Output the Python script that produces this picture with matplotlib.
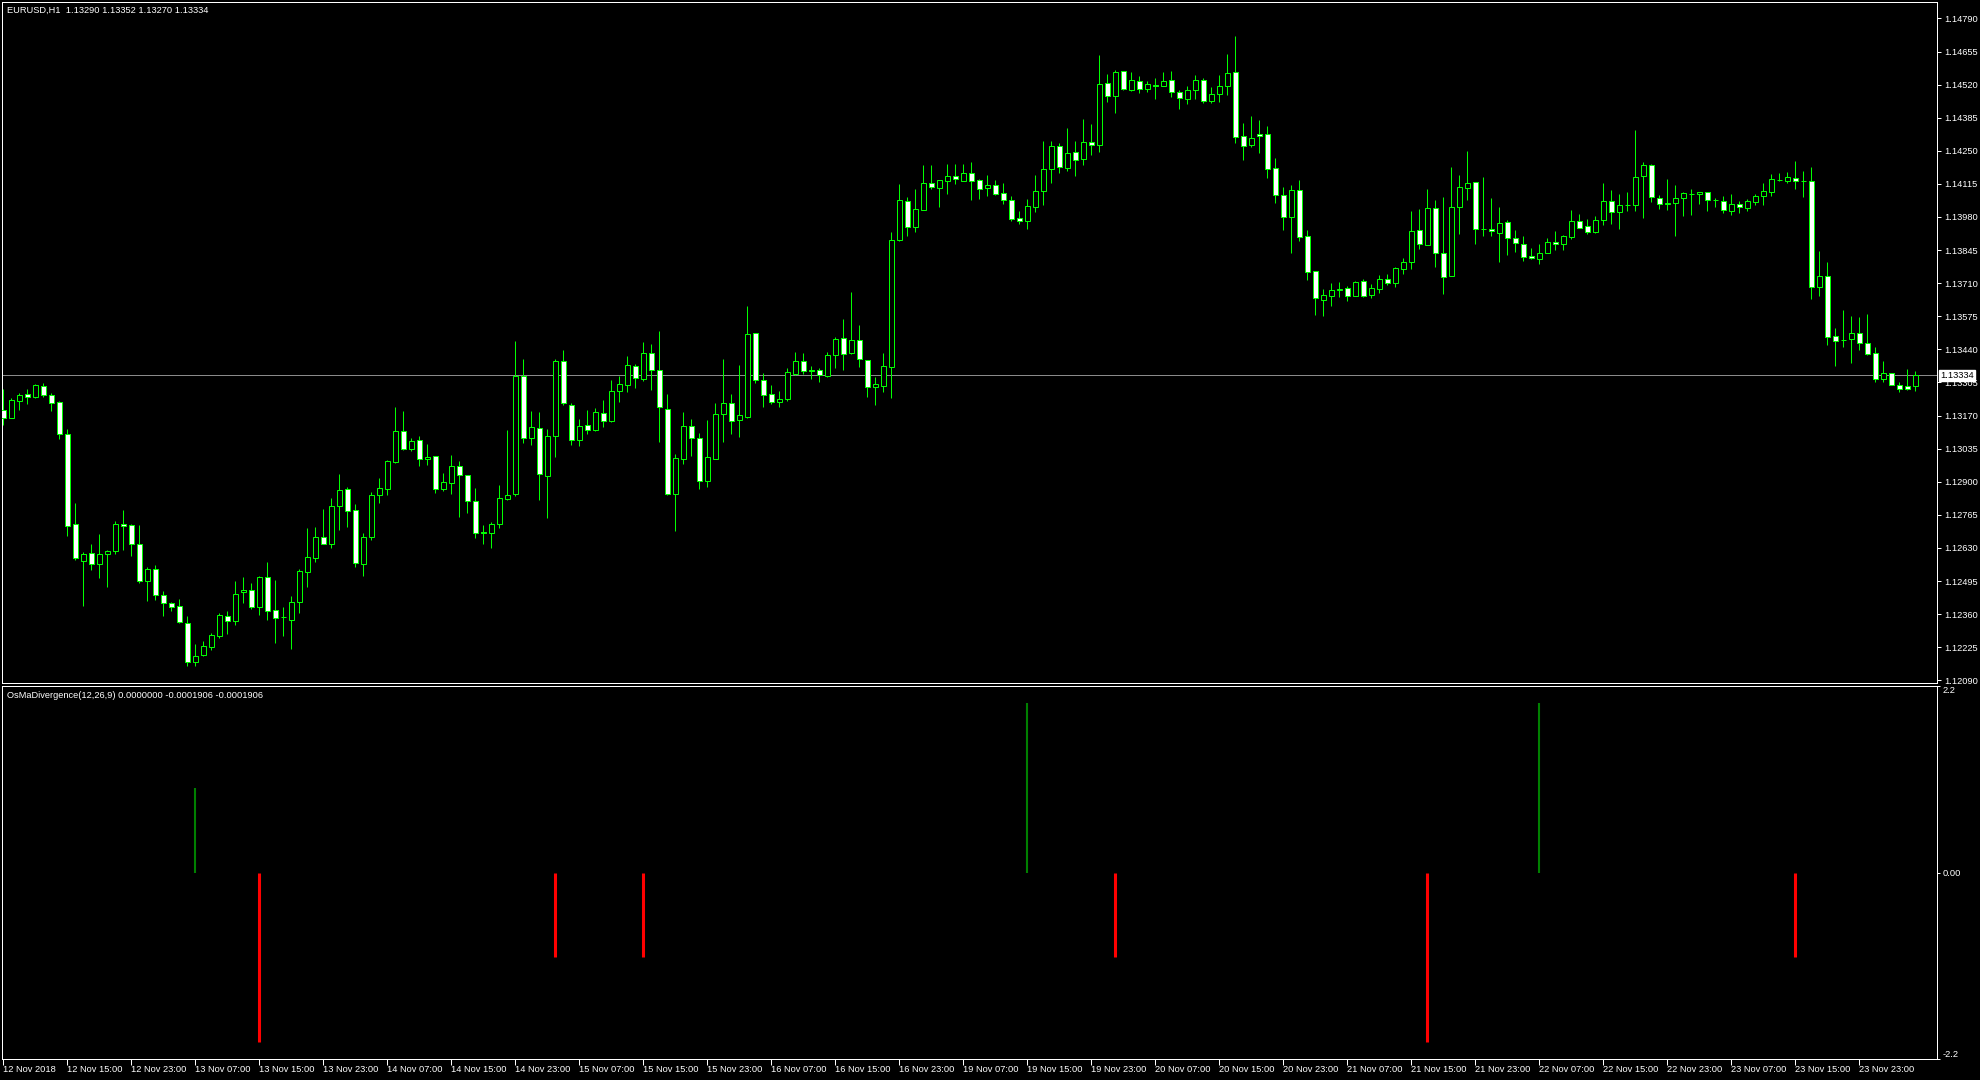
import matplotlib
matplotlib.use("Agg")
import matplotlib.pyplot as plt

plt.rcParams["font.family"] = ["Liberation Sans", "DejaVu Sans"]

# EURUSD H1 candles, bar index 0 = 12 Nov 2018 07:00
opens = [
    1.13192, 1.13161, 1.13231, 1.13256, 1.13244, 1.13290, 1.13254, 1.13225, 1.13093, 1.12726,
    1.12578, 1.12608, 1.12563, 1.12604, 1.12619, 1.12726, 1.12723, 1.12644, 1.12496, 1.12542,
    1.12440, 1.12406, 1.12394, 1.12325, 1.12166, 1.12194, 1.12227, 1.12270, 1.12351, 1.12333,
    1.12449, 1.12457, 1.12390, 1.12510, 1.12375, 1.12347, 1.12338, 1.12410, 1.12533, 1.12590,
    1.12673, 1.12647, 1.12802, 1.12869, 1.12783, 1.12565, 1.12676, 1.12844, 1.12871, 1.12982,
    1.13107, 1.13033, 1.13070, 1.12991, 1.13003, 1.12869, 1.12896, 1.12963, 1.12926, 1.12820,
    1.12693, 1.12692, 1.12726, 1.12828, 1.12848, 1.13332, 1.13077, 1.13118, 1.12924, 1.13085,
    1.13391, 1.13215, 1.13069, 1.13130, 1.13113, 1.13179, 1.13146, 1.13269, 1.13293, 1.13371,
    1.13320, 1.13424, 1.13354, 1.13195, 1.12848, 1.12991, 1.13127, 1.13077, 1.12901, 1.12994,
    1.13175, 1.13220, 1.13150, 1.13165, 1.13505, 1.13313, 1.13256, 1.13224, 1.13236, 1.13341,
    1.13391, 1.13354, 1.13356, 1.13332, 1.13415, 1.13485, 1.13424, 1.13477, 1.13395, 1.13288,
    1.13292, 1.13369, 1.13886, 1.14047, 1.13940, 1.14009, 1.14117, 1.14099, 1.14128, 1.14149,
    1.14128, 1.14158, 1.14129, 1.14100, 1.14109, 1.14076, 1.14051, 1.13974, 1.13964, 1.14022,
    1.14087, 1.14177, 1.14268, 1.14181, 1.14247, 1.14217, 1.14284, 1.14275, 1.14525, 1.14474,
    1.14574, 1.14500, 1.14533, 1.14503, 1.14517, 1.14515, 1.14537, 1.14488, 1.14462, 1.14500,
    1.14537, 1.14454, 1.14480, 1.14513, 1.14570, 1.14309, 1.14275, 1.14317, 1.14317, 1.14178,
    1.14068, 1.13981, 1.14092, 1.13901, 1.13758, 1.13642, 1.13659, 1.13684, 1.13689, 1.13659,
    1.13717, 1.13663, 1.13687, 1.13729, 1.13712, 1.13769, 1.13797, 1.13925, 1.13867, 1.14015,
    1.13835, 1.13740, 1.14019, 1.14099, 1.14121, 1.13933, 1.13933, 1.13916, 1.13958, 1.13893,
    1.13871, 1.13820, 1.13807, 1.13835, 1.13880, 1.13868, 1.13899, 1.13962, 1.13942, 1.13917,
    1.13966, 1.14044, 1.13999, 1.14027, 1.14027, 1.14148, 1.14194, 1.14058, 1.14031, 1.14038,
    1.14058, 1.14073, 1.14072, 1.14080, 1.14049, 1.14044, 1.14005, 1.14035, 1.14018, 1.14042,
    1.14064, 1.14083, 1.14130, 1.14128, 1.14141, 1.14128, 1.14125, 1.13695, 1.13739, 1.13493,
    1.13479, 1.13482, 1.13505, 1.13464, 1.13427, 1.13320, 1.13342, 1.13293, 1.13289, 1.13290,
]
highs = [
    1.13277, 1.13243, 1.13263, 1.13277, 1.13297, 1.13301, 1.13260, 1.13229, 1.13114, 1.12812,
    1.12614, 1.12646, 1.12687, 1.12621, 1.12740, 1.12784, 1.12727, 1.12723, 1.12552, 1.12560,
    1.12454, 1.12410, 1.12421, 1.12352, 1.12238, 1.12250, 1.12281, 1.12366, 1.12374, 1.12495,
    1.12510, 1.12485, 1.12515, 1.12572, 1.12499, 1.12389, 1.12434, 1.12542, 1.12710, 1.12716,
    1.12789, 1.12835, 1.12931, 1.12880, 1.12809, 1.12689, 1.12859, 1.12916, 1.12988, 1.13206,
    1.13190, 1.13080, 1.13086, 1.13054, 1.13005, 1.12937, 1.13009, 1.12984, 1.12927, 1.12874,
    1.12723, 1.12734, 1.12886, 1.13111, 1.13474, 1.13400, 1.13188, 1.13184, 1.13115, 1.13400,
    1.13437, 1.13220, 1.13156, 1.13192, 1.13201, 1.13233, 1.13315, 1.13331, 1.13413, 1.13380,
    1.13470, 1.13462, 1.13515, 1.13258, 1.13013, 1.13184, 1.13156, 1.13099, 1.13152, 1.13221,
    1.13400, 1.13258, 1.13376, 1.13617, 1.13508, 1.13343, 1.13294, 1.13270, 1.13366, 1.13429,
    1.13425, 1.13372, 1.13366, 1.13429, 1.13492, 1.13564, 1.13674, 1.13539, 1.13395, 1.13327,
    1.13425, 1.13920, 1.14114, 1.14062, 1.14094, 1.14192, 1.14192, 1.14129, 1.14196, 1.14196,
    1.14196, 1.14204, 1.14134, 1.14151, 1.14130, 1.14118, 1.14065, 1.14004, 1.14053, 1.14151,
    1.14289, 1.14289, 1.14280, 1.14343, 1.14289, 1.14379, 1.14359, 1.14640, 1.14563, 1.14579,
    1.14575, 1.14571, 1.14555, 1.14534, 1.14547, 1.14571, 1.14575, 1.14500, 1.14514, 1.14559,
    1.14545, 1.14510, 1.14559, 1.14644, 1.14718, 1.14363, 1.14391, 1.14375, 1.14351, 1.14220,
    1.14102, 1.14110, 1.14131, 1.13927, 1.13758, 1.13686, 1.13710, 1.13713, 1.13698, 1.13720,
    1.13729, 1.13706, 1.13743, 1.13747, 1.13776, 1.13812, 1.14004, 1.14012, 1.14094, 1.14049,
    1.14061, 1.14184, 1.14151, 1.14249, 1.14121, 1.14143, 1.14057, 1.14020, 1.13967, 1.13927,
    1.13902, 1.13853, 1.13869, 1.13894, 1.13922, 1.13906, 1.14008, 1.13992, 1.13971, 1.13986,
    1.14118, 1.14090, 1.14073, 1.14082, 1.14335, 1.14203, 1.14196, 1.14068, 1.14137, 1.14110,
    1.14080, 1.14094, 1.14083, 1.14083, 1.14057, 1.14065, 1.14073, 1.14044, 1.14053, 1.14073,
    1.14118, 1.14155, 1.14159, 1.14163, 1.14208, 1.14167, 1.14184, 1.13841, 1.13796, 1.13527,
    1.13600, 1.13576, 1.13572, 1.13584, 1.13448, 1.13392, 1.13344, 1.13306, 1.13359, 1.13352,
]
lows = [
    1.13131, 1.13158, 1.13192, 1.13217, 1.13243, 1.13244, 1.13188, 1.13074, 1.12678, 1.12580,
    1.12393, 1.12540, 1.12506, 1.12472, 1.12605, 1.12621, 1.12597, 1.12488, 1.12415, 1.12417,
    1.12352, 1.12374, 1.12323, 1.12148, 1.12148, 1.12189, 1.12213, 1.12264, 1.12279, 1.12315,
    1.12406, 1.12381, 1.12356, 1.12338, 1.12243, 1.12270, 1.12216, 1.12366, 1.12472, 1.12574,
    1.12644, 1.12631, 1.12703, 1.12716, 1.12553, 1.12517, 1.12662, 1.12814, 1.12846, 1.12978,
    1.13029, 1.13027, 1.12964, 1.12968, 1.12855, 1.12863, 1.12850, 1.12757, 1.12774, 1.12669,
    1.12644, 1.12631, 1.12710, 1.12825, 1.12843, 1.13059, 1.13051, 1.12825, 1.12753, 1.13002,
    1.13213, 1.13050, 1.13047, 1.13096, 1.13108, 1.13124, 1.13145, 1.13226, 1.13267, 1.13283,
    1.13312, 1.13275, 1.13063, 1.12846, 1.12700, 1.12973, 1.13006, 1.12871, 1.12880, 1.12992,
    1.13063, 1.13096, 1.13084, 1.13162, 1.13304, 1.13206, 1.13217, 1.13206, 1.13230, 1.13335,
    1.13338, 1.13320, 1.13308, 1.13328, 1.13365, 1.13357, 1.13421, 1.13369, 1.13244, 1.13215,
    1.13267, 1.13242, 1.13883, 1.13903, 1.13920, 1.14008, 1.14095, 1.14022, 1.14075, 1.14114,
    1.14128, 1.14049, 1.14053, 1.14066, 1.14069, 1.14034, 1.13963, 1.13952, 1.13930, 1.14001,
    1.14030, 1.14119, 1.14160, 1.14167, 1.14148, 1.14193, 1.14234, 1.14246, 1.14450, 1.14405,
    1.14498, 1.14495, 1.14487, 1.14491, 1.14461, 1.14514, 1.14470, 1.14421, 1.14442, 1.14461,
    1.14443, 1.14446, 1.14450, 1.14477, 1.14283, 1.14213, 1.14266, 1.14242, 1.14140, 1.14038,
    1.13928, 1.13834, 1.13883, 1.13723, 1.13580, 1.13576, 1.13618, 1.13654, 1.13637, 1.13658,
    1.13654, 1.13649, 1.13671, 1.13702, 1.13695, 1.13747, 1.13767, 1.13849, 1.13865, 1.13776,
    1.13667, 1.13740, 1.13910, 1.14049, 1.13869, 1.13902, 1.13902, 1.13796, 1.13825, 1.13838,
    1.13801, 1.13807, 1.13788, 1.13834, 1.13845, 1.13845, 1.13890, 1.13936, 1.13910, 1.13916,
    1.13947, 1.13951, 1.13931, 1.14005, 1.14005, 1.13977, 1.14042, 1.14014, 1.14008, 1.13903,
    1.13985, 1.13988, 1.14034, 1.14005, 1.14022, 1.13997, 1.13988, 1.13997, 1.14005, 1.14030,
    1.14030, 1.14067, 1.14126, 1.14120, 1.14094, 1.14061, 1.13645, 1.13657, 1.13457, 1.13372,
    1.13451, 1.13385, 1.13437, 1.13417, 1.13308, 1.13308, 1.13294, 1.13266, 1.13274, 1.13270,
]
closes = [
    1.13158, 1.13233, 1.13254, 1.13244, 1.13294, 1.13252, 1.13222, 1.13093, 1.12719, 1.12590,
    1.12604, 1.12563, 1.12604, 1.12617, 1.12727, 1.12721, 1.12644, 1.12496, 1.12544, 1.12439,
    1.12406, 1.12390, 1.12326, 1.12166, 1.12191, 1.12230, 1.12273, 1.12355, 1.12333, 1.12444,
    1.12457, 1.12390, 1.12512, 1.12374, 1.12345, 1.12347, 1.12408, 1.12536, 1.12595, 1.12676,
    1.12648, 1.12801, 1.12865, 1.12782, 1.12567, 1.12673, 1.12846, 1.12873, 1.12984, 1.13107,
    1.13033, 1.13067, 1.12991, 1.12999, 1.12869, 1.12897, 1.12963, 1.12927, 1.12820, 1.12692,
    1.12691, 1.12727, 1.12832, 1.12844, 1.13332, 1.13077, 1.13122, 1.12930, 1.13085, 1.13392,
    1.13220, 1.13069, 1.13126, 1.13113, 1.13183, 1.13146, 1.13269, 1.13297, 1.13375, 1.13322,
    1.13424, 1.13354, 1.13203, 1.12848, 1.12995, 1.13127, 1.13077, 1.12901, 1.12999, 1.13175,
    1.13220, 1.13146, 1.13171, 1.13501, 1.13317, 1.13252, 1.13224, 1.13236, 1.13346, 1.13391,
    1.13350, 1.13351, 1.13335, 1.13415, 1.13481, 1.13421, 1.13477, 1.13399, 1.13285, 1.13297,
    1.13371, 1.13888, 1.14051, 1.13940, 1.14011, 1.14117, 1.14103, 1.14129, 1.14149, 1.14136,
    1.14158, 1.14128, 1.14095, 1.14109, 1.14073, 1.14050, 1.13973, 1.13964, 1.14023, 1.14088,
    1.14174, 1.14268, 1.14182, 1.14243, 1.14213, 1.14284, 1.14275, 1.14521, 1.14474, 1.14570,
    1.14503, 1.14537, 1.14503, 1.14521, 1.14516, 1.14533, 1.14491, 1.14464, 1.14500, 1.14537,
    1.14454, 1.14480, 1.14513, 1.14566, 1.14307, 1.14270, 1.14304, 1.14309, 1.14177, 1.14068,
    1.13981, 1.14092, 1.13899, 1.13754, 1.13648, 1.13660, 1.13684, 1.13687, 1.13659, 1.13713,
    1.13659, 1.13689, 1.13729, 1.13712, 1.13770, 1.13795, 1.13921, 1.13871, 1.14015, 1.13835,
    1.13736, 1.14019, 1.14102, 1.14117, 1.13932, 1.13931, 1.13921, 1.13954, 1.13893, 1.13872,
    1.13815, 1.13811, 1.13835, 1.13876, 1.13868, 1.13901, 1.13962, 1.13937, 1.13917, 1.13966,
    1.14044, 1.13999, 1.14027, 1.14027, 1.14144, 1.14194, 1.14060, 1.14031, 1.14039, 1.14056,
    1.14076, 1.14075, 1.14080, 1.14048, 1.14049, 1.14007, 1.14033, 1.14019, 1.14045, 1.14065,
    1.14086, 1.14133, 1.14132, 1.14143, 1.14128, 1.14126, 1.13695, 1.13739, 1.13489, 1.13475,
    1.13478, 1.13505, 1.13467, 1.13422, 1.13320, 1.13342, 1.13296, 1.13279, 1.13279, 1.13334,
]

# OsMaDivergence signals (bar index, value)
signal_bars = [24, 32, 69, 80, 128, 139, 178, 192, 224]
signal_values = [1, -2, -1, -1, 2, -1, -2, 2, -1]

price_ticks = [1.14790, 1.14655, 1.14520, 1.14385, 1.14250, 1.14115, 1.13980,
               1.13845, 1.13710, 1.13575, 1.13440, 1.13305, 1.13170, 1.13035,
               1.12900, 1.12765, 1.12630, 1.12495, 1.12360, 1.12225, 1.12090]
bid_price = 1.13334

time_tick_bars = list(range(0, 233, 8))
time_tick_labels = [
    "12 Nov 2018", "12 Nov 15:00", "12 Nov 23:00", "13 Nov 07:00", "13 Nov 15:00",
    "13 Nov 23:00", "14 Nov 07:00", "14 Nov 15:00", "14 Nov 23:00", "15 Nov 07:00",
    "15 Nov 15:00", "15 Nov 23:00", "16 Nov 07:00", "16 Nov 15:00", "16 Nov 23:00",
    "19 Nov 07:00", "19 Nov 15:00", "19 Nov 23:00", "20 Nov 07:00", "20 Nov 15:00",
    "20 Nov 23:00", "21 Nov 07:00", "21 Nov 15:00", "21 Nov 23:00", "22 Nov 07:00",
    "22 Nov 15:00", "22 Nov 23:00", "23 Nov 07:00", "23 Nov 15:00", "23 Nov 23:00",
]

FS = 6.7
PX = 0.72  # one pixel in points at dpi 100
LIME = "#00ff00"

fig = plt.figure(figsize=(19.8, 10.8), dpi=100)
fig.patch.set_facecolor("black")

ax = fig.add_axes([2 / 1980, 1 - 683 / 1080, 1935 / 1980, 681 / 1080])
axi = fig.add_axes([2 / 1980, 1 - 1059 / 1080, 1935 / 1980, 373 / 1080])

for a in (ax, axi):
    a.set_facecolor("black")
    for s in a.spines.values():
        s.set_color("white")
        s.set_linewidth(PX)
    a.set_xlim(-0.16, 241.7)

# candles
xs = list(range(len(opens)))
ax.vlines(xs, lows, highs, color=LIME, linewidth=PX, zorder=2)
fills = ["white" if c < o else "black" for o, c in zip(opens, closes)]
ax.bar(xs, [c - o for o, c in zip(opens, closes)], bottom=opens, width=0.6,
       color=fills, edgecolor=LIME, linewidth=PX, zorder=3)

ax.axhline(bid_price, color="#8a8a8a", linewidth=PX, zorder=1)

ax.set_ylim(1.12079, 1.14857)
ax.yaxis.tick_right()
ax.set_yticks(price_ticks)
ax.set_yticklabels([f"{p:.5f}" for p in price_ticks])
ax.tick_params(axis="y", colors="white", labelsize=FS, length=3, width=PX, pad=2)
ax.set_xticks([])

ax.annotate(f"{bid_price:.5f}", xy=(1, bid_price), xycoords=ax.get_yaxis_transform(),
            xytext=(2.3, 0), textcoords="offset points", ha="left", va="center",
            fontsize=FS, color="black", annotation_clip=False,
            bbox=dict(boxstyle="square,pad=0.12", fc="white", ec="white"))

# indicator
colors = ["#008000" if v > 0 else "#ff0000" for v in signal_values]
widths = [1.5 if v > 0 else 2.2 for v in signal_values]
for b, v, c, w in zip(signal_bars, signal_values, colors, widths):
    axi.vlines(b, 0, v, color=c, linewidth=w)
axi.set_ylim(-2.2, 2.2)
axi.yaxis.tick_right()
axi.set_yticks([2.2, 0, -2.2])
axi.set_yticklabels(["2.2", "0.00", "-2.2"])
axi.tick_params(axis="y", colors="white", labelsize=FS, length=2, width=PX, pad=2)
ylabels = axi.get_yticklabels()
ylabels[0].set_va("top")
ylabels[2].set_va("bottom")

axi.set_xticks(time_tick_bars)
axi.set_xticklabels(time_tick_labels, ha="left")
axi.tick_params(axis="x", colors="white", labelsize=FS, length=4, width=PX, pad=0.5)

fig.text(7 / 1980, 1 - 10.5 / 1080, "EURUSD,H1  1.13290 1.13352 1.13270 1.13334",
         color="white", fontsize=FS, va="center", ha="left")
fig.text(7 / 1980, 1 - 695 / 1080,
         "OsMaDivergence(12,26,9) 0.0000000 -0.0001906 -0.0001906",
         color="white", fontsize=FS, va="center", ha="left")

fig.savefig("out.png", dpi=100, facecolor="black")
